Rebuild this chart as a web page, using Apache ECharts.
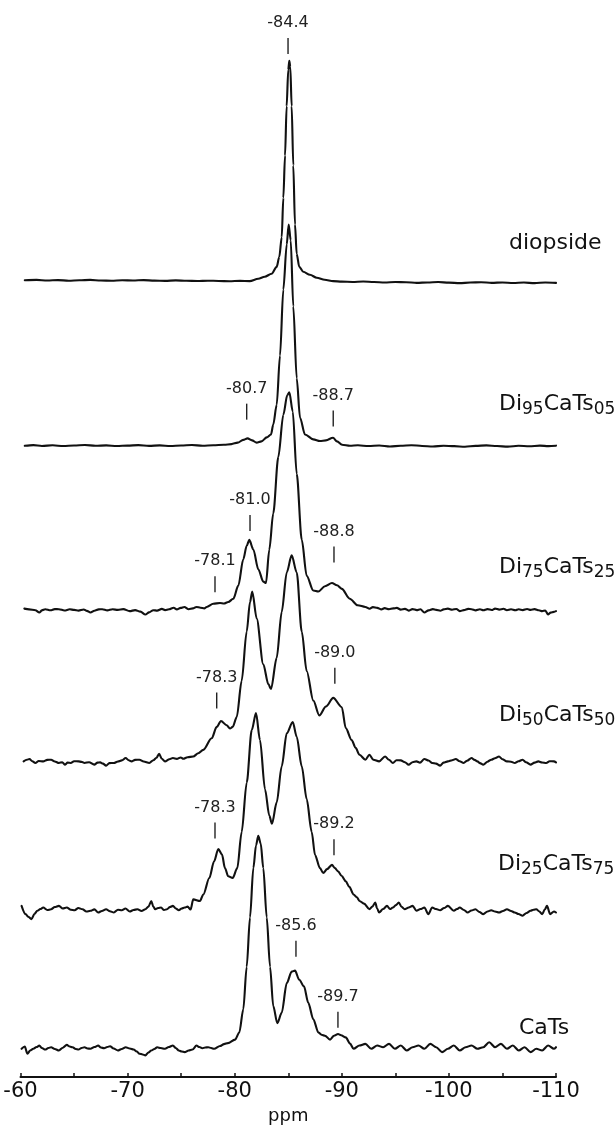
<!DOCTYPE html>
<html>
<head>
<meta charset="utf-8">
<title>29Si MAS NMR - Di-CaTs</title>
<script src="https://cdn.jsdelivr.net/npm/echarts@6/dist/echarts.min.js"></script>
<style>
  html, body { margin: 0; padding: 0; background: #fff; }
  #chart { width: 616px; height: 1130px; }
</style>
</head>
<body>
<div id="chart"></div>
<script>
// each spectrum: [ppm, intensity above its own baseline]
const diopside = [
  [-60.4,1.5],[-61.5,1.8],[-62.5,1.2],[-63.5,1.6],[-64.5,1.0],[-65.5,1.4],[-66.5,1.8],[-67.5,1.2],[-68.5,1.0],[-69.5,1.5],
  [-70.5,1.2],[-71.5,1.6],[-72.5,1.1],[-73.5,0.8],[-74.5,1.3],[-75.5,0.9],[-76.5,0.6],[-77.5,1.0],[-78.5,0.7],[-79.5,0.4],
  [-80.5,0.8],[-81.4,0.5],[-82.2,3],[-82.8,5],[-83.45,8],[-83.92,15],[-84.16,25],[-84.39,45],[-84.54,85],[-84.7,128],
  [-84.85,178],[-85.0,215],[-85.1,224],[-85.19,218],[-85.32,178],[-85.47,118],[-85.63,58],[-85.79,28],[-86.03,15],[-86.4,10],
  [-87.03,7],[-87.66,4],[-88.4,2],[-89.2,0.5],[-90,0],[-91,-0.3],[-92,0.2],[-93,-0.4],[-94,-0.8],[-95,-0.3],
  [-96,-0.6],[-97,-1.2],[-98,-0.8],[-99,-0.4],[-100,-1.0],[-101,-1.5],[-102,-0.9],[-103,-0.6],[-104,-1.2],[-105,-0.8],
  [-106,-1.3],[-107,-0.9],[-108,-1.5],[-109,-0.8],[-110,-1.2]
];
const di95 = [
  [-60.4,0.5],[-61.2,1.2],[-62,0.3],[-63,1.0],[-64,0.2],[-65,0.8],[-66,1.3],[-67,0.5],[-68,0.9],[-69,0.2],
  [-70,0.7],[-71,1.2],[-72,0.4],[-73,0.9],[-74,0.3],[-75,0.8],[-76,1.3],[-77,0.6],[-78,1.0],[-79,1.5],
  [-79.7,2.2],[-80.28,3.7],[-80.8,6.5],[-81.2,8],[-81.62,6],[-82.05,3.7],[-82.5,5],[-82.99,9],[-83.39,12],[-83.6,22],
  [-83.92,42],[-84.23,92],[-84.54,159],[-84.86,205],[-85.04,225],[-85.23,209],[-85.47,142],[-85.79,69],[-86.1,29],[-86.56,12],
  [-87.34,7],[-87.96,5.3],[-88.52,6],[-89.18,8.7],[-89.55,5],[-90.02,1.5],[-90.76,0.5],[-91.5,1],[-92.5,0.2],[-93.5,0.8],
  [-94.5,-0.2],[-95.5,0.5],[-96.5,1.1],[-97.5,0.3],[-98.5,-0.3],[-99.5,0.6],[-100.5,0.1],[-101.5,-0.5],[-102.5,0.4],[-103.5,0.9],
  [-104.5,0.2],[-105.5,-0.4],[-106.5,0.5],[-107.5,0.0],[-108.5,0.7],[-109.3,0.1],[-110,0.6]
];
const di75 = [
  [-60.36,1.3],[-60.8,0.5],[-61.39,-0.3],[-61.76,-2.7],[-62.0,-0.5],[-62.31,0.7],[-62.8,-0.4],[-63.2,0.8],[-63.59,0.7],[-64.1,-0.6],
  [-64.6,0.6],[-65.0,0.0],[-65.42,-0.7],[-65.9,0.4],[-66.2,-1.0],[-66.53,-2.7],[-66.9,-0.8],[-67.3,0.5],[-67.63,0.7],[-68.1,-0.5],
  [-68.6,0.6],[-69.09,0],[-69.6,0.8],[-70.2,-1.3],[-70.7,-0.2],[-71.2,-1.8],[-71.66,-4.7],[-72.0,-2.5],[-72.4,-0.3],[-72.76,-0.7],
  [-73.2,1.0],[-73.5,-0.2],[-73.87,0.7],[-74.3,2.2],[-74.6,0.5],[-74.96,2],[-75.3,3.0],[-75.7,0.7],[-76.1,1.5],[-76.43,3],
  [-76.8,2.2],[-77.16,1.5],[-77.38,3],[-78.0,6.3],[-78.63,7],[-79.0,6.5],[-79.4,8],[-79.87,11.3],[-80.34,24.7],[-80.8,51.3],
  [-81.12,65],[-81.36,71],[-81.74,61.3],[-82.2,41.3],[-82.67,28.7],[-82.92,27.3],[-83.23,61],[-83.6,98],[-84.07,155],[-84.54,198],
  [-84.91,218],[-85.1,220.7],[-85.42,201.3],[-85.79,138],[-86.26,71.3],[-86.72,34.7],[-87.34,19.7],[-87.81,18.7],[-88.43,24],[-89.08,27.3],
  [-89.55,25],[-90.0,21.3],[-90.74,11.3],[-91.48,4.7],[-92.2,3],[-92.6,1.2],[-92.9,2.8],[-93.31,2],[-93.7,0.5],[-94.0,1.8],
  [-94.41,0.7],[-94.8,1.5],[-95.14,2],[-95.5,0.3],[-95.9,1.0],[-96.24,-0.7],[-96.6,0.8],[-97.0,-0.2],[-97.34,0.7],[-97.71,-2.7],
  [-98.1,-0.5],[-98.5,0.8],[-98.81,0],[-99.2,-0.8],[-99.5,0.5],[-99.91,1.3],[-100.3,0.2],[-100.7,0.9],[-101.01,-1.3],[-101.4,-0.2],
  [-101.8,1.0],[-102.11,0.7],[-102.5,-0.5],[-102.9,0.6],[-103.21,-0.3],[-103.6,0.8],[-104.0,-0.1],[-104.31,1.3],[-104.7,0.3],[-105.1,1.1],
  [-105.42,-0.3],[-105.8,0.6],[-106.2,-0.4],[-106.52,0.7],[-106.9,-0.2],[-107.3,0.9],[-107.62,0],[-108.0,0.8],[-108.4,-0.4],[-108.71,-1.3],
  [-109.0,-0.6],[-109.26,-4.7],[-109.5,-2.8],[-109.81,-2],[-110,-1.3]
];
const di50 = [
  [-60.29,-0.7],[-60.6,1.0],[-60.84,1.7],[-61.1,-0.5],[-61.39,-2.3],[-61.7,-0.3],[-62.12,-0.7],[-62.5,0.8],[-62.86,1],[-63.2,-0.8],
  [-63.59,-2.3],[-63.9,-1.5],[-64.14,-4],[-64.4,-2.0],[-64.69,-2.3],[-65.0,-0.5],[-65.42,-0.7],[-65.7,-1.2],[-65.98,-2.3],[-66.4,-1.5],
  [-66.89,-4],[-67.2,-2.0],[-67.44,-1.7],[-67.7,-3.0],[-67.99,-5],[-68.3,-2.5],[-68.72,-2.3],[-69.1,-0.8],[-69.46,0.3],[-69.82,2.7],
  [-70.1,0.5],[-70.37,-0.7],[-70.7,0.8],[-71.11,1],[-71.5,-0.8],[-72.03,-2.3],[-72.4,0.5],[-72.7,3.0],[-72.94,7],[-73.2,2.0],
  [-73.49,-0.7],[-73.9,1.5],[-74.23,2.7],[-74.6,1.8],[-74.96,3.3],[-75.2,2.0],[-75.6,3.5],[-76.13,4.3],[-76.6,7.5],[-77.07,11],
  [-77.85,22.7],[-78.32,34.3],[-78.72,40.3],[-79.25,36],[-79.56,32.7],[-79.81,34.3],[-80.19,44.3],[-80.65,81],[-81.12,131],[-81.43,161],
  [-81.64,171.7],[-82.05,144.3],[-82.67,97.7],[-83.14,77.7],[-83.39,72.7],[-83.92,104.3],[-84.39,151],[-84.86,191],[-85.32,208.3],[-85.79,191],
  [-86.26,131],[-86.72,91],[-87.34,61],[-87.9,46],[-88.52,55],[-89.2,63.7],[-90.0,54.3],[-90.37,33],[-90.92,21],[-91.29,13],
  [-91.65,6],[-92.2,1],[-92.58,6],[-92.94,1],[-93.49,-0.7],[-94.04,4.3],[-94.4,1.0],[-94.77,-2.3],[-95.1,0.5],[-95.51,0.3],
  [-95.9,-1.5],[-96.24,-4],[-96.6,-1.5],[-96.97,-0.7],[-97.3,-2.0],[-97.71,1.7],[-98.1,0.2],[-98.44,-2.3],[-98.8,-3.0],[-99.18,-5],
  [-99.5,-2.0],[-99.91,-0.7],[-100.3,0.5],[-100.64,1.7],[-101.0,-0.5],[-101.38,-2.3],[-101.7,0.0],[-102.11,2.7],[-102.4,0.8],[-102.66,-0.7],
  [-102.9,-2.5],[-103.21,-4],[-103.6,-1.0],[-103.95,1],[-104.3,2.5],[-104.68,4.3],[-105.0,1.5],[-105.42,-0.7],[-105.8,-1.0],[-106.15,-2.3],
  [-106.5,-0.5],[-106.88,1],[-107.2,-1.5],[-107.62,-4],[-108.0,-2.0],[-108.35,-0.7],[-108.7,-1.8],[-109.09,-2.3],[-109.4,-0.5],[-109.81,-0.7],
  [-110,-1.7]
];
const di25 = [
  [-60.1,4.7],[-60.47,-3.7],[-60.75,-6.5],[-61.02,-8.7],[-61.3,-3.5],[-61.57,-0.3],[-61.85,1.5],[-62.12,3],[-62.5,0.5],[-62.86,1.3],
  [-63.2,3.5],[-63.59,4.7],[-63.95,2.0],[-64.32,3],[-64.7,0.8],[-65.06,0.3],[-65.4,2.5],[-65.79,1.3],[-66.15,-1.0],[-66.53,-0.3],
  [-66.9,1.2],[-67.25,-2],[-67.6,-0.5],[-67.99,1.3],[-68.35,-0.8],[-68.72,-2],[-69.1,0.8],[-69.46,0.3],[-69.8,2.0],[-70.2,-1],
  [-70.55,0.5],[-70.92,1.3],[-71.3,-0.5],[-71.66,1.3],[-71.95,4.0],[-72.21,9.7],[-72.4,4.0],[-72.58,1.3],[-72.85,2.5],[-73.13,3],
  [-73.4,0.5],[-73.68,1.3],[-73.95,3.5],[-74.23,4.7],[-74.5,2.0],[-74.78,0.3],[-75.05,2.0],[-75.33,3],[-75.6,4.0],[-75.88,1],
  [-76.13,11.3],[-76.76,9.7],[-77.07,16.3],[-77.63,33],[-78.07,49.7],[-78.47,62.3],[-78.81,57],[-79.09,43],[-79.4,34.7],[-79.81,33],
  [-80.24,43],[-80.65,79.7],[-81.12,129.7],[-81.59,183],[-81.99,200.3],[-82.36,173],[-82.83,123],[-83.23,96.3],[-83.48,88],[-83.92,109.7],
  [-84.39,146.3],[-84.86,179.7],[-85.42,191.3],[-85.79,176.3],[-86.26,146.3],[-86.72,113],[-87.19,79.7],[-87.5,56.3],[-87.96,43],[-88.27,38],
  [-88.62,42],[-89.08,46.3],[-89.36,43],[-89.65,39.7],[-90.0,35],[-90.37,29.7],[-90.7,24],[-91.1,16.3],[-91.4,13.5],[-91.65,9.7],
  [-92.07,7],[-92.58,1.3],[-92.85,4.0],[-93.12,8],[-93.3,2.0],[-93.49,-2],[-93.85,1.5],[-94.22,4.7],[-94.5,1.5],[-94.77,3],
  [-95.05,5.5],[-95.32,8],[-95.6,3.5],[-95.87,1.3],[-96.25,3.0],[-96.61,4.7],[-96.97,-0.3],[-97.35,1.5],[-97.71,3],[-98.08,-3.7],
  [-98.44,3],[-98.8,1.5],[-99.18,0.3],[-99.55,2.5],[-99.91,4.7],[-100.46,-0.3],[-100.75,1.5],[-101.01,3],[-101.4,0.5],[-101.75,-2],
  [-102.1,0.0],[-102.48,1.3],[-102.85,-1.5],[-103.21,-3.7],[-103.6,-1.0],[-103.95,0.3],[-104.3,-1.0],[-104.68,-2],[-105.05,-0.5],[-105.42,1.3],
  [-105.8,-0.5],[-106.15,-2],[-106.5,-3.5],[-106.88,-5.3],[-107.25,-2.5],[-107.62,-0.3],[-107.9,0.8],[-108.16,1.3],[-108.45,-1.0],[-108.71,-3.7],
  [-108.95,1.0],[-109.16,4.7],[-109.45,-3.7],[-109.81,-1],[-110,-2]
];
const cats = [
  [-60.1,-0.3],[-60.4,2.0],[-60.65,-5.3],[-60.9,-2.0],[-61.2,-0.3],[-61.5,1.5],[-61.76,3],[-62.0,0.5],[-62.31,-1],[-62.6,0.5],
  [-62.86,1.3],[-63.2,-0.5],[-63.59,-2],[-63.95,0.8],[-64.32,3.7],[-64.6,2.0],[-64.87,1.3],[-65.15,-0.5],[-65.42,-1],[-65.7,0.5],
  [-65.98,1.3],[-66.25,0.0],[-66.53,-0.3],[-66.9,1.5],[-67.25,3],[-67.5,1.0],[-67.81,0.3],[-68.1,1.5],[-68.36,2.3],[-68.7,0.0],
  [-69.09,-2],[-69.45,-0.5],[-69.82,1.3],[-70.2,0.0],[-70.56,-1],[-70.85,-3.0],[-71.11,-5.3],[-71.4,-6.0],[-71.66,-7],[-71.95,-4.0],
  [-72.21,-2],[-72.5,-0.5],[-72.76,1.3],[-73.1,0.5],[-73.49,-0.3],[-73.85,1.5],[-74.23,3],[-74.5,0.5],[-74.78,-2],[-75.05,-3.0],
  [-75.33,-3.7],[-75.7,-2.0],[-76.06,-1],[-76.43,3],[-76.7,1.5],[-76.98,0.3],[-77.25,1.0],[-77.53,1.3],[-77.8,0.5],[-78.08,-0.3],
  [-78.63,2.5],[-79.0,4.5],[-79.37,5.5],[-80.03,9],[-80.43,16.3],[-80.8,39.7],[-81.12,83],[-81.43,133],[-81.74,183],[-81.99,206],
  [-82.2,215.7],[-82.43,208],[-82.67,183],[-82.99,133],[-83.3,83],[-83.6,43],[-83.98,25.7],[-84.39,36.3],[-84.86,66.3],[-85.32,78],
  [-85.63,79],[-86.03,69.7],[-86.47,63],[-86.87,46.3],[-87.34,29.7],[-87.81,16.3],[-88.1,14],[-88.43,13],[-88.9,9],[-89.27,13],
  [-89.65,14.7],[-89.93,13.5],[-90.37,11.3],[-90.77,5],[-91.1,-0.3],[-91.65,3],[-92.2,4.7],[-92.75,-0.3],[-93.31,3],[-93.86,1.3],
  [-94.41,4.7],[-94.96,-0.3],[-95.51,3],[-96.06,-2],[-96.61,1.3],[-97.16,3],[-97.71,-0.3],[-98.26,4.7],[-98.81,1.3],[-99.36,-3.7],
  [-99.91,-0.3],[-100.46,3],[-101.01,-2],[-101.56,1.3],[-102.11,3],[-102.66,-0.3],[-103.21,1.3],[-103.76,6.3],[-104.31,1.3],[-104.86,4.7],
  [-105.42,-0.3],[-105.97,3],[-106.52,-2],[-107.07,1.3],[-107.62,-3.7],[-108.16,-0.3],[-108.71,-2],[-109.26,3],[-109.81,-0.3],[-110,1.3]
];

const spectra = [diopside, di95, di75, di50, di25, cats];
const sampleOffsets = [807, 640, 474, 321, 169, 29];
const sampleLabels = [
  '{m|diopside}',
  '{m|Di}{s|95}{m|CaTs}{s|05}',
  '{m|Di}{s|75}{m|CaTs}{s|25}',
  '{m|Di}{s|50}{m|CaTs}{s|50}',
  '{m|Di}{s|25}{m|CaTs}{s|75}',
  '{m|CaTs}'
];
const tickLabels = [-60, -70, -80, -90, -100, -110];

// peak marks: spectrum index, ppm, foot of the mark above that baseline, text
const peakSpectrum = [0, 1, 1, 2, 2, 2, 3, 3, 4, 4, 5, 5];
const peakPpm = [-84.98, -81.12, -89.2, -81.43, -78.16, -89.27, -78.32, -89.35, -78.16, -89.27, -85.72, -89.64];
const peakFoot = [231, 27, 20, 80, 18, 48, 53, 78, 73, 56, 93, 21];
const peakText = ['-84.4', '-80.7', '-88.7', '-81.0', '-78.1', '-88.8', '-78.3', '-89.0', '-78.3', '-89.2', '-85.6', '-89.7'];

const font = '"DejaVu Sans", Verdana, sans-serif';
const ink = '#111';
const labelPos = [[509, 244], [499, 405], [499, 568], [499, 716], [498, 865], [519, 1029]];

const chart = echarts.init(document.getElementById('chart'), null, { renderer: 'canvas' });

const series = spectra.map((s, i) => ({
  type: 'line',
  data: s.map(p => [p[0], p[1] + sampleOffsets[i]]),
  showSymbol: false,
  smooth: 0.3,
  smoothMonotone: 'x',
  silent: true,
  lineStyle: { color: ink, width: 2.1, join: 'round', cap: 'round' }
}));

series.push({
  type: 'custom',
  clip: false,
  silent: true,
  data: peakPpm.map((p, i) => [p, peakFoot[i] + sampleOffsets[peakSpectrum[i]], i]),
  renderItem: (params, api) => {
    const i = api.value(2);
    const foot = api.coord([api.value(0), api.value(1)]);
    return {
      type: 'group',
      children: [
        { type: 'line', shape: { x1: foot[0], y1: foot[1], x2: foot[0], y2: foot[1] - 16 },
          style: { stroke: '#222', lineWidth: 1.4 } },
        { type: 'text', x: foot[0], y: foot[1] - 31,
          style: { text: peakText[i], fill: '#222', fontSize: 16, fontFamily: font, align: 'center', verticalAlign: 'middle' } }
      ]
    };
  }
});

const option = {
  animation: false,
  backgroundColor: '#fff',
  grid: { left: 20.5, right: 60, top: 52, bottom: 38 },
  xAxis: {
    type: 'value',
    min: -110,
    max: -60,
    interval: 5,
    inverse: true,
    name: 'ppm',
    nameLocation: 'middle',
    nameGap: 9,
    nameTextStyle: { color: ink, fontSize: 18, fontFamily: font },
    axisLine: { lineStyle: { color: ink, width: 2 } },
    axisTick: { inside: true, length: 4, lineStyle: { color: ink, width: 1.5 } },
    axisLabel: {
      color: ink, fontSize: 21, fontFamily: font, margin: 4,
      formatter: v => tickLabels.indexOf(v) >= 0 ? String(v) : ''
    },
    splitLine: { show: false }
  },
  yAxis: { type: 'value', min: 0, max: 1040, show: false },
  graphic: sampleLabels.map((t, i) => ({
    type: 'text',
    x: labelPos[i][0],
    y: labelPos[i][1],
    silent: true,
    style: {
      text: t,
      align: 'left',
      verticalAlign: 'middle',
      fill: ink,
      rich: {
        m: { fontSize: 22, fontFamily: font, fill: ink, lineHeight: 26, verticalAlign: 'bottom', padding: [0, 0, 3, 0] },
        s: { fontSize: 17, fontFamily: font, fill: ink, lineHeight: 20, verticalAlign: 'bottom' }
      }
    }
  })),
  series: series
};

chart.setOption(option);
</script>
</body>
</html>
